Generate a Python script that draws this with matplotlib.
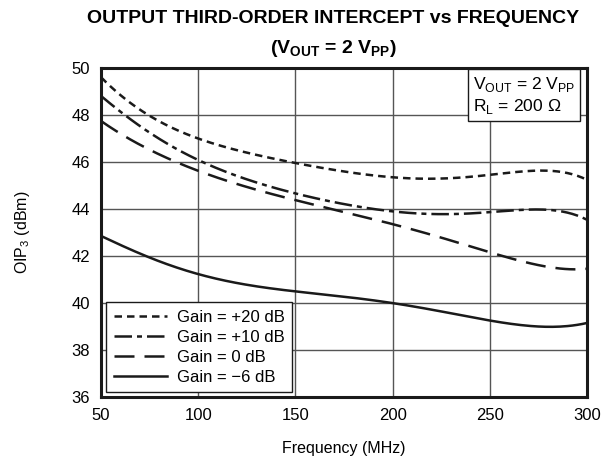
import numpy as np
from matplotlib import pyplot as plt

plt.rcParams['font.family'] = ['Liberation Sans', 'DejaVu Sans']
plt.rcParams['mathtext.fontset'] = 'custom'
plt.rcParams['mathtext.rm'] = 'Liberation Sans'
plt.rcParams['mathtext.bf'] = 'Liberation Sans:bold'

# values (MHz, dBm)
freq = [50, 75, 100, 125, 150, 175, 200, 225, 250, 275, 300]
gain_p20 = [49.6, 48.0, 46.95, 46.4, 46.0, 45.6, 45.3, 45.3, 45.5, 45.6, 45.25]
gain_p10 = [48.8, 47.3, 46.0, 45.3, 44.7, 44.2, 43.85, 43.8, 43.9, 43.95, 43.55]
gain_0 = [47.75, 46.5, 45.65, 44.95, 44.35, 43.85, 43.4, 42.8, 42.1, 41.65, 41.45]
gain_m6 = [42.85, 41.95, 41.2, 40.8, 40.5, 40.25, 40.0, 39.65, 39.25, 39.0, 39.15]

labels = ['Gain = +20 dB', 'Gain = +10 dB', 'Gain = 0 dB', 'Gain = \u22126 dB']
styles = [(0, (3, 2)), (0, (7, 2, 2, 2)), (0, (8, 4)), '-']


def smooth(x, y, n=200):
	# polynomial through the read points for a smooth trace
	xs = np.linspace(x[0], x[-1], n)
	coef = np.polyfit(x, y, 6)
	return xs, np.polyval(coef, xs)


fig = plt.figure(figsize=(6.07, 4.61), dpi=100)
ax = fig.add_axes([0.1664, 0.1388, 0.8006, 0.7137])

for ys, lab, ls in zip([gain_p20, gain_p10, gain_0, gain_m6], labels, styles):
	xs, yy = smooth(freq, ys)
	ax.plot(xs, yy, color='#1a1a1a', linestyle=ls, linewidth=1.8, label=lab)

ax.set_xlim(50, 300)
ax.set_ylim(36, 50)
ax.set_xticks([50, 100, 150, 200, 250, 300])
ax.set_yticks([36, 38, 40, 42, 44, 46, 48, 50])
ax.grid(True, color='#555555', linewidth=1.0)
ax.tick_params(length=0, labelsize=12, pad=8)
for s in ax.spines.values():
	s.set_linewidth(2.2)
	s.set_color('#1a1a1a')

ax.set_xlabel('Frequency (MHz)', fontsize=11.5, labelpad=13)
ax.set_ylabel('OIP$_3$ (dBm)', fontsize=11.5, labelpad=28)

leg = ax.legend(loc='lower left', fontsize=12, handlelength=3.2, handletextpad=0.6,
	fancybox=False, framealpha=1, edgecolor='#1a1a1a', borderaxespad=0.3,
	labelspacing=0.3, borderpad=0.45)
leg.get_frame().set_linewidth(1.0)

ax.text(0.765, 0.98, 'V$_{\\mathrm{OUT}}$ = 2 V$_{\\mathrm{PP}}$\nR$_\\mathrm{L}$ = 200 \u03a9',
	transform=ax.transAxes, ha='left', va='top', fontsize=12.6, linespacing=1.25,
	multialignment='left',
	bbox=dict(boxstyle='square,pad=0.3', facecolor='white', edgecolor='#1a1a1a', linewidth=1.0))

fig.text(0.549, 0.96, 'OUTPUT THIRD-ORDER INTERCEPT vs FREQUENCY', ha='center', va='center',
	fontsize=14, fontweight='bold')
fig.text(0.549, 0.895, '(V$_{\\mathbf{OUT}}$ = 2 V$_{\\mathbf{PP}}$)', ha='center', va='center',
	fontsize=14, fontweight='bold')

plt.savefig('out.png', dpi=100)
